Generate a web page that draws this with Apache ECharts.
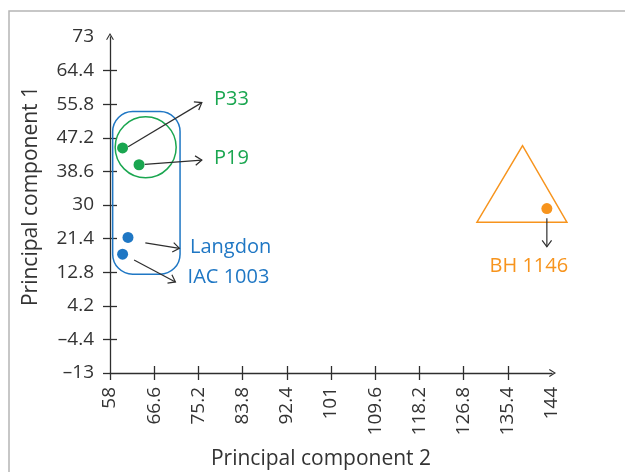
<!DOCTYPE html>
<html><head><meta charset="utf-8">
<script src="https://cdn.jsdelivr.net/npm/echarts@6/dist/echarts.min.js"></script>
<style>html,body{margin:0;padding:0;background:#fff}#c{width:625px;height:472px}</style>
</head><body><div id="c"></div>
<script>
// ---- data ----
const xTickValues = [58, 66.6, 75.2, 83.8, 92.4, 101, 109.6, 118.2, 126.8, 135.4, 144];
const xTickLabels = ['58','66.6','75.2','83.8','92.4','101','109.6','118.2','126.8','135.4','144'];
const yTickValues = [-13, -4.4, 4.2, 12.8, 21.4, 30, 38.6, 47.2, 55.8, 64.4, 73];
const yTickLabels = ['\u201313','\u20134.4','4.2','12.8','21.4','30','38.6','47.2','55.8','64.4','73'];

const names = ['P33', 'P19', 'Langdon', 'IAC 1003', 'BH 1146'];
const pc2 = [60.45, 63.65, 61.5, 60.45, 143.0];
const pc1 = [44.6, 40.3, 21.7, 17.4, 29.1];
const groupOf = [0, 0, 1, 1, 2];

// cluster outlines (data units)
const greenCircleCenter = [64.94, 44.76];
const blueBox = [58.52, 53.9, 71.63, 12.3];           // x1, yTop, x2, yBottom
const orangeTriangle = [138.27, 45.17, 129.4, 25.6, 146.9, 25.6];

// annotation arrows: from (x,y) to (x,y)
const arrowFromX = [61.53, 64.75, 64.88, 62.69, 143.0];
const arrowFromY = [44.9, 40.4, 20.3, 15.9, 26.6];
const arrowToX = [75.87, 75.87, 71.5, 70.73, 143.0];
const arrowToY = [56.2, 41.5, 18.9, 10.3, 19.3];

// label anchors
const labelX = [78.25, 78.25, 73.56, 73.1, 139.5];
const labelY = [57.1, 41.9, 19.3, 11.6, 14.2];

// ---- styles ----
const colors = ['#1aa650', '#1f77c4', '#f7941d'];
const labelAlign = ['left', 'left', 'left', 'left', 'center'];
const ink = '#2e2e2e';
const FONT = 'Open Sans';
const chevron = 'path://M0,8.2 L5,0 L10,8.2 L8.8,9 L5,2.6 L1.2,9 Z';

const chart = echarts.init(document.getElementById('c'), null, {renderer: 'canvas'});

function lookup(values, labels) {
  return function (v) {
    for (let i = 0; i < values.length; i++) if (Math.abs(values[i] - v) < 1e-6) return labels[i];
    return '';
  };
}

const option = {
  backgroundColor: '#fff',
  animation: false,
  textStyle: {fontFamily: FONT},
  grid: {left: 110, right: 73, top: 37, bottom: 99, containLabel: false, outerBoundsMode: 'none'},
  graphic: [{
    type: 'polyline', silent: true,
    shape: {points: [[9, 472], [9, 11], [625, 11]]},
    style: {stroke: '#b5b5b5', lineWidth: 1.5, fill: 'none'}
  }],
  xAxis: [{
    type: 'value', min: 58, max: 144, position: 'bottom',
    axisLine: {show: true, onZero: false, lineStyle: {color: ink, width: 1.3}, symbol: ['none', chevron], symbolSize: [9, 7], symbolOffset: [0, 0.5]},
    axisTick: {show: true, length: 7, lineStyle: {color: ink, width: 1.3}, customValues: xTickValues.slice(0, -1)},
    axisLabel: {show: true, rotate: 90, margin: 14, fontSize: 19, color: '#333', fontFamily: FONT,
      customValues: xTickValues, formatter: lookup(xTickValues, xTickLabels)},
    splitLine: {show: false},
    name: 'Principal component 2', nameLocation: 'middle', nameGap: 76,
    nameTextStyle: {fontSize: 21, color: '#333', fontFamily: FONT, padding: [0, 20, 0, 0]}
  }, {
    type: 'value', min: 58, max: 144, position: 'bottom',
    axisLine: {show: false, onZero: false},
    axisTick: {show: true, inside: true, length: 7, lineStyle: {color: ink, width: 1.3}, customValues: xTickValues.slice(1, -1)},
    axisLabel: {show: false},
    splitLine: {show: false}
  }],
  yAxis: [{
    type: 'value', min: -13, max: 73, position: 'left',
    axisLine: {show: true, onZero: false, lineStyle: {color: ink, width: 1.3}, symbol: ['none', chevron], symbolSize: [9, 7], symbolOffset: [0, 0.5]},
    axisTick: {show: true, length: 7, lineStyle: {color: ink, width: 1.3}, customValues: yTickValues.slice(0, -1)},
    axisLabel: {show: true, margin: 16, fontSize: 19, color: '#333', fontFamily: FONT,
      customValues: yTickValues, formatter: lookup(yTickValues, yTickLabels)},
    splitLine: {show: false},
    name: 'Principal component 1', nameLocation: 'middle', nameGap: 68, nameRotate: 90,
    nameTextStyle: {fontSize: 21, color: '#333', fontFamily: FONT, padding: [0, 0, 0, 18]}
  }, {
    type: 'value', min: -13, max: 73, position: 'left',
    axisLine: {show: false, onZero: false},
    axisTick: {show: true, inside: true, length: 7, lineStyle: {color: ink, width: 1.3}, customValues: yTickValues.slice(1, -1)},
    axisLabel: {show: false},
    splitLine: {show: false}
  }],
  series: [
    {
      type: 'custom', clip: false, z: 2, silent: true,
      data: [greenCircleCenter],
      renderItem: function (params, api) {
        const c = api.coord([api.value(0), api.value(1)]);
        return {type: 'circle', shape: {cx: c[0], cy: c[1], r: 30.5}, style: {fill: 'none', stroke: colors[0], lineWidth: 1.5}};
      }
    },
    {
      type: 'custom', clip: false, z: 2, silent: true,
      data: [blueBox],
      renderItem: function (params, api) {
        const p1 = api.coord([api.value(0), api.value(1)]);
        const p2 = api.coord([api.value(2), api.value(3)]);
        return {type: 'rect', shape: {x: p1[0], y: p1[1], width: p2[0] - p1[0], height: p2[1] - p1[1], r: 20},
          style: {fill: 'none', stroke: colors[1], lineWidth: 1.5}};
      }
    },
    {
      type: 'custom', clip: false, z: 2, silent: true,
      data: [orangeTriangle],
      renderItem: function (params, api) {
        const pts = [];
        for (let i = 0; i < 3; i++) pts.push(api.coord([api.value(2 * i), api.value(2 * i + 1)]));
        return {type: 'polygon', shape: {points: pts}, style: {fill: 'none', stroke: colors[2], lineWidth: 1.5}};
      }
    },
    {
      type: 'custom', clip: false, z: 3, silent: true,
      data: arrowFromX.map((x, i) => [x, arrowFromY[i], arrowToX[i], arrowToY[i]]),
      renderItem: function (params, api) {
        const p1 = api.coord([api.value(0), api.value(1)]);
        const p2 = api.coord([api.value(2), api.value(3)]);
        const ang = Math.atan2(p2[1] - p1[1], p2[0] - p1[0]);
        const L = 8, A = Math.PI / 5;
        const h1 = [p2[0] - L * Math.cos(ang - A), p2[1] - L * Math.sin(ang - A)];
        const h2 = [p2[0] - L * Math.cos(ang + A), p2[1] - L * Math.sin(ang + A)];
        return {type: 'group', children: [
          {type: 'line', shape: {x1: p1[0], y1: p1[1], x2: p2[0], y2: p2[1]}, style: {stroke: ink, lineWidth: 1.2}},
          {type: 'polyline', shape: {points: [h1, p2, h2]}, style: {stroke: ink, lineWidth: 1.2, fill: 'none'}}
        ]};
      }
    },
    {
      type: 'custom', clip: false, z: 3, silent: true,
      data: labelX.map((x, i) => [x, labelY[i]]),
      renderItem: function (params, api) {
        const i = params.dataIndex;
        const p = api.coord([api.value(0), api.value(1)]);
        return {type: 'text', x: p[0], y: p[1], style: {text: names[i], fill: colors[groupOf[i]],
          fontSize: 20, fontFamily: FONT, align: labelAlign[i], verticalAlign: 'middle'}};
      }
    },
    {
      type: 'scatter', z: 4, silent: true,
      symbolSize: 11,
      data: pc2.map((x, i) => [x, pc1[i]]),
      itemStyle: {opacity: 1, color: function (p) { return colors[groupOf[p.dataIndex]]; }}
    }
  ]
};
chart.setOption(option);
</script>
</body></html>
